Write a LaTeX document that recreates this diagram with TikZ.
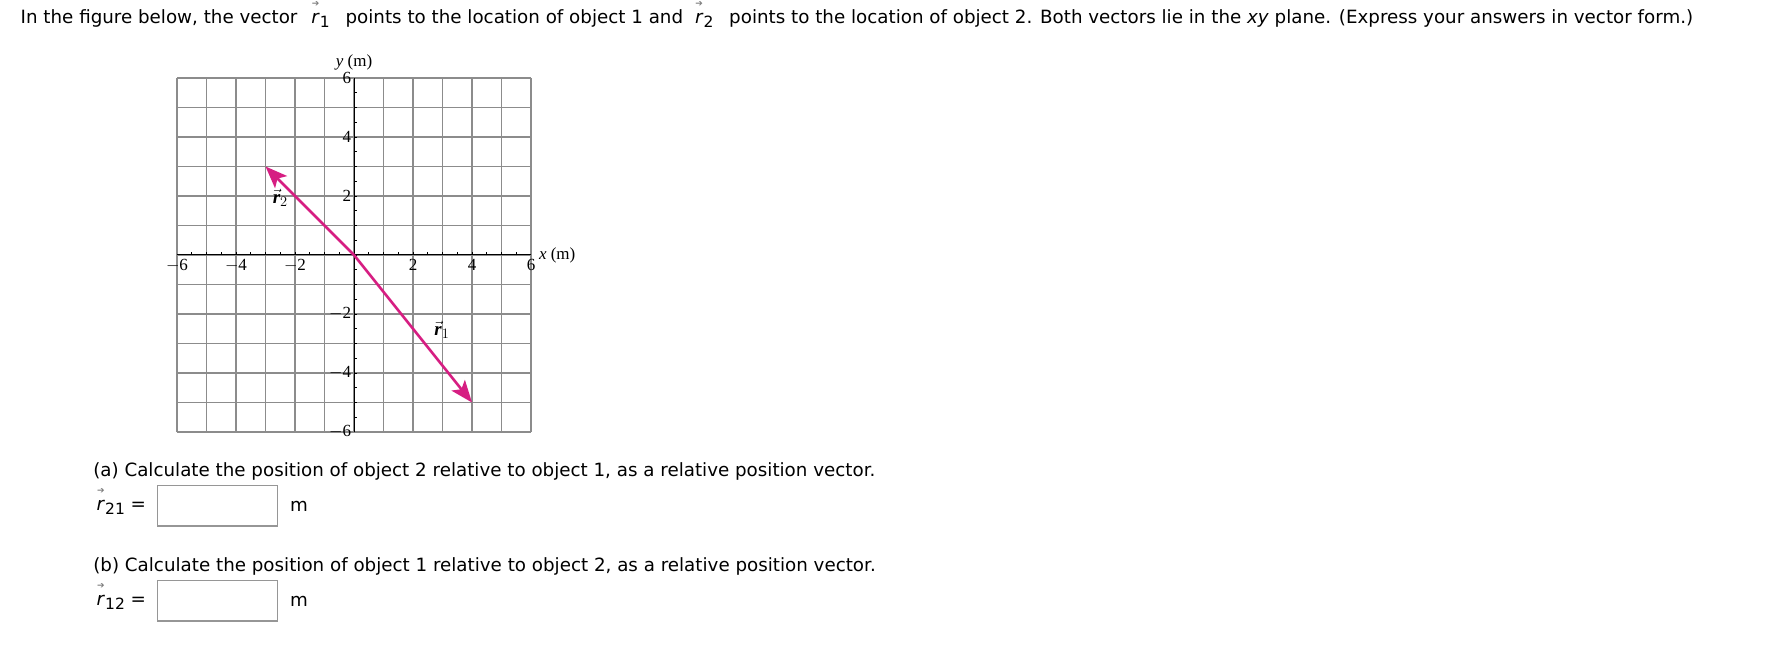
\documentclass[tikz,border=0pt]{standalone}
\usepackage{fontspec}
\setmainfont{DejaVu Sans}
\newfontfamily\serifgraph{Liberation Serif}
\usetikzlibrary{arrows.meta}
\definecolor{vecc}{RGB}{214,30,130}
\definecolor{gridc}{RGB}{140,140,140}
\definecolor{boxc}{RGB}{150,150,150}
\definecolor{arrg}{RGB}{125,125,125}
\newcommand{\tvec}[1]{\makebox[0pt][l]{\raisebox{0.92em}{\hspace{0.02em}\fontsize{9}{9}\selectfont\color{arrg}➔}}\textit{r}\raisebox{-0.25em}{\fontsize{15.5}{15.5}\selectfont #1}}
\newcommand{\gvec}[1]{$\vec{\mbox{\serifgraph\bfseries\itshape r}}_{#1}$}
\begin{document}
\begin{tikzpicture}[x=1pt,y=-1pt,
  every node/.style={inner sep=0pt, outer sep=0pt},
  txt/.style={font=\fontsize{18.27}{22}\selectfont, anchor=base west},
  ansbox/.style={draw=boxc, line width=1.5pt},
  gridlab/.style={font=\serifgraph\fontsize{17}{17}\selectfont},
  gridline/.style={draw=gridc, line width=1.3pt},
  axisline/.style={draw=black, line width=1pt},
  tick/.style={draw=black, line width=0.9pt},
  vecarrow/.style={draw=vecc, line width=2.6pt, -{Stealth[length=22pt,width=17pt,inset=5pt]}}]
\useasboundingbox (0,0) rectangle (1766,652);

\node[txt] (intro) at (20.7,23.3) {In the figure below, the vector\hspace{14pt}\tvec{1}\hspace{10pt} points to the location of object 1 and\hspace{12pt}\tvec{2}\hspace{10pt} points to the location of object 2. Both vectors lie in the \textit{xy} plane. (Express your answers in vector form.)};

\begin{scope}[shift={(354,255)}, x=29.5pt, y=29.5pt]
  \foreach \g in {-6,...,6} {
    \draw[gridline] (\g,-6) -- (\g,6);
    \draw[gridline] (-6,\g) -- (6,\g);
  }
  \draw[axisline] (-6,0) -- (6,0);
  \draw[axisline] (0,-6) -- (0,6);
  \foreach \t in {-5.5,-5,...,5.6} {
    \draw[tick] (\t,0) -- ++(0,3pt);
    \draw[tick] (0,\t) -- ++(3pt,0);
  }
  \foreach \v/\l in {-6/$-$6,-4/$-$4,-2/$-$2,2/2,4/4,6/6} {
    \node[gridlab, anchor=north] (xl\v) at ([yshift=-4pt]\v,0) {\l};
    \node[gridlab, anchor=east] (yl\v) at ([xshift=-3pt]0,\v) {\l};
  }
  \node[gridlab, anchor=base] (ylab) at (0,6.4) {\textit{y} (m)};
  \node[gridlab, anchor=west] (xlab) at ([xshift=8pt]6,0) {\textit{x} (m)};
  \coordinate (O) at (0,0);
  \coordinate (P1) at (4,-5);
  \coordinate (P2) at (-3,3);
  \draw[vecarrow] (O) -- (P1);
  \draw[vecarrow] (O) -- (P2);
  \node[font=\fontsize{19}{19}\selectfont] (r2lab) at (-2.5,1.93) {\gvec{2}};
  \node[font=\fontsize{19}{19}\selectfont] (r1lab) at (2.98,-2.54) {\gvec{1}};
\end{scope}

\node[txt] (qa) at (93.3,476.7) {(a) Calculate the position of object 2 relative to object 1, as a relative position vector.};
\node[txt] (r21) at (96.7,510) {\tvec{21} =};
\node[ansbox, anchor=north west, minimum width=120pt, minimum height=40.3pt] (boxa) at (157.3,485.7) {};
\node[txt] (ma) at (290,511.7) {m};

\node[txt] (qb) at (93.3,571) {(b) Calculate the position of object 1 relative to object 2, as a relative position vector.};
\node[txt] (r12) at (96.7,605) {\tvec{12} =};
\node[ansbox, anchor=north west, minimum width=120pt, minimum height=40.3pt] (boxb) at (157.3,580.7) {};
\node[txt] (mb) at (290,606) {m};
\end{tikzpicture}
\end{document}
